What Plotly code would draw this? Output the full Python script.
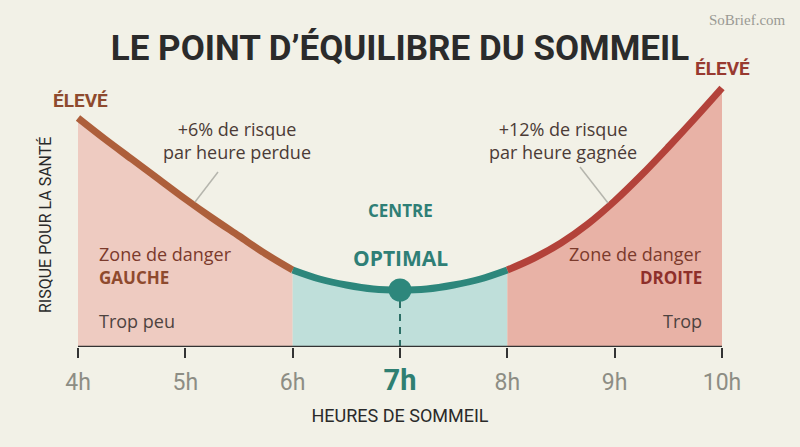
import plotly.graph_objects as go

# ---------------- data ----------------
hours = [4, 4.25, 4.5, 4.75, 5, 5.25, 5.5, 5.75, 6,
         6.25, 6.5, 6.75, 7, 7.25, 7.5, 7.75, 8,
         8.25, 8.5, 8.75, 9, 9.25, 9.5, 9.75, 10]
risk = [229, 208, 188, 168, 148, 129, 111, 93, 77,
        68, 62, 58, 57, 58, 62, 68, 77,
        89, 104, 123, 146, 172, 200, 229, 259]
tick_vals = [4, 5, 6, 7, 8, 9, 10]
tick_labels = ["4h", "5h", "6h", "7h", "8h", "9h", "10h"]
optimal_hour = 7
zone_bounds = [4, 6, 8, 10]


def seg(a, b):
    idx = [i for i, h in enumerate(hours) if a <= h <= b]
    return [hours[i] for i in idx], [risk[i] for i in idx]


left_x, left_y = seg(zone_bounds[0], zone_bounds[1])
mid_x, mid_y = seg(zone_bounds[1], zone_bounds[2])
right_x, right_y = seg(zone_bounds[2], zone_bounds[3])
opt_y = risk[hours.index(optimal_hour)]

# ---------------- styles ----------------
BG = "#f2f1e7"
C_LEFT_LINE = "#ad5f3b"
C_MID_LINE = "#2d877c"
C_RIGHT_LINE = "#b3423a"
C_LEFT_FILL = "#eecbc1"
C_MID_FILL = "#bfdfda"
C_RIGHT_FILL = "#e8b2a6"
TEAL = "#2f7f76"
NARROW = "Roboto, sans-serif"
BODY = "Open Sans, Noto Sans, sans-serif"

W, H = 800, 447
ML, MR, MT, MB = 40, 40, 40, 100
plot_w = W - ML - MR
plot_h = H - MT - MB
x0_px, x1_px = 78, 722
ppu = (x1_px - x0_px) / 6.0
xr = [4 - (x0_px - ML) / ppu, 10 + (W - MR - x1_px) / ppu]
yr = [0, plot_h]


def dx(px):
    return 4 + (px - x0_px) / ppu


def dy(py):
    return (H - MB) - py


fig = go.Figure()

for xs, ys, fc in [(left_x, left_y, C_LEFT_FILL), (mid_x, mid_y, C_MID_FILL), (right_x, right_y, C_RIGHT_FILL)]:
    fig.add_trace(go.Scatter(x=xs, y=ys, mode="lines", fill="tozeroy", fillcolor=fc,
                             line=dict(width=0, shape="spline", smoothing=1.0),
                             hoverinfo="skip", showlegend=False))

fig.add_trace(go.Scatter(x=[optimal_hour, optimal_hour], y=[0, opt_y], mode="lines",
                         line=dict(color="#2c6f66", width=2, dash="7px,6px"),
                         hoverinfo="skip", showlegend=False))

for xs, ys, lc in [(left_x, left_y, C_LEFT_LINE), (mid_x, mid_y, C_MID_LINE), (right_x, right_y, C_RIGHT_LINE)]:
    fig.add_trace(go.Scatter(x=xs, y=ys, mode="lines",
                             line=dict(color=lc, width=7, shape="spline", smoothing=1.0),
                             hoverinfo="skip", showlegend=False))

fig.add_trace(go.Scatter(x=[optimal_hour], y=[opt_y], mode="markers",
                         marker=dict(color=C_MID_LINE, size=23, line=dict(width=0)),
                         hoverinfo="skip", showlegend=False))

ticktext = [
    ("<b><span style='color:#2f7f72;font-size:29px'>%s</span></b>" % t) if v == optimal_hour else t
    for v, t in zip(tick_vals, tick_labels)
]

fig.update_xaxes(range=xr, tickvals=tick_vals, ticktext=ticktext,
                 ticks="outside", ticklen=10, tickwidth=2, tickcolor="#333333",
                 showline=False,
                 showgrid=False, zeroline=False,
                 tickfont=dict(family=NARROW, size=23, color="#8d8d84"),
                 ticklabelstandoff=4,
                 title=dict(text="HEURES DE SOMMEIL", standoff=13,
                            font=dict(family=NARROW, size=18, color="#2a2a2a")))
fig.update_yaxes(range=yr, showticklabels=False, showgrid=False, zeroline=False,
                 showline=False, ticks="")

ann = []


def add(text, px, py, size, color, family=BODY, xanchor="center", angle=0):
    ann.append(dict(text=text, x=dx(px), y=dy(py), xref="x", yref="y", showarrow=False,
                    xanchor=xanchor, yanchor="middle", textangle=angle,
                    font=dict(family=family, size=size, color=color)))


add("<b>ÉLEVÉ</b>", 80, 100, 19, "#8e4a2e", NARROW)
add("<b>ÉLEVÉ</b>", 722, 68, 19, "#983a30", NARROW)
add("+6% de risque<br>par heure perdue", 237, 140, 18, "#4b3b36")
add("+12% de risque<br>par heure gagnée", 563, 140, 18, "#4b3b36")
add("<b>CENTRE</b>", 400, 210, 17, TEAL)
add("<b>OPTIMAL</b>", 400, 258, 21, TEAL)
add("Zone de danger", 97, 254, 18, "#7b3a2c", xanchor="left")
add("<b>GAUCHE</b>", 97, 277, 17, "#8e4a2e", xanchor="left")
add("Trop peu", 97, 321, 18, "#4d4340", xanchor="left")
add("Zone de danger", 704, 254, 18, "#7b3a2c", xanchor="right")
add("<b>DROITE</b>", 704, 277, 17, "#8e2f2a", xanchor="right")
add("Trop", 704, 321, 18, "#4d4340", xanchor="right")
add("RISQUE POUR LA SANTÉ", 45, 225, 16, "#2a2a2a", NARROW, angle=-90)

ann.append(dict(text="SoBrief.com", x=(788 - ML) / plot_w, y=(H - MB - 20) / plot_h,
                xref="paper", yref="paper", showarrow=False, xanchor="right", yanchor="middle",
                font=dict(family="Liberation Serif, serif", size=15, color="#9a9a94")))

shapes = [
    dict(type="line", x0=tick_vals[0], y0=0, x1=tick_vals[-1], y1=0, xref="x", yref="y",
         line=dict(color="#333333", width=2.5), layer="above"),
    dict(type="line", x0=dx(218), y0=dy(172), x1=dx(195), y1=dy(202), xref="x", yref="y",
         line=dict(color="#b5b5ad", width=1.5)),
    dict(type="line", x0=dx(580), y0=dy(167), x1=dx(608), y1=dy(203), xref="x", yref="y",
         line=dict(color="#b5b5ad", width=1.5)),
]

fig.update_layout(
    width=W, height=H,
    margin=dict(l=ML, r=MR, t=MT, b=MB),
    paper_bgcolor=BG, plot_bgcolor=BG,
    title=dict(text="<b>LE POINT D’ÉQUILIBRE DU SOMMEIL</b>", x=0.5, xanchor="center",
               y=1 - 48 / H, yanchor="middle",
               font=dict(family=NARROW, size=35, color="#2b2b2b")),
    annotations=ann, shapes=shapes, showlegend=False,
)

fig.write_html("out.html")
